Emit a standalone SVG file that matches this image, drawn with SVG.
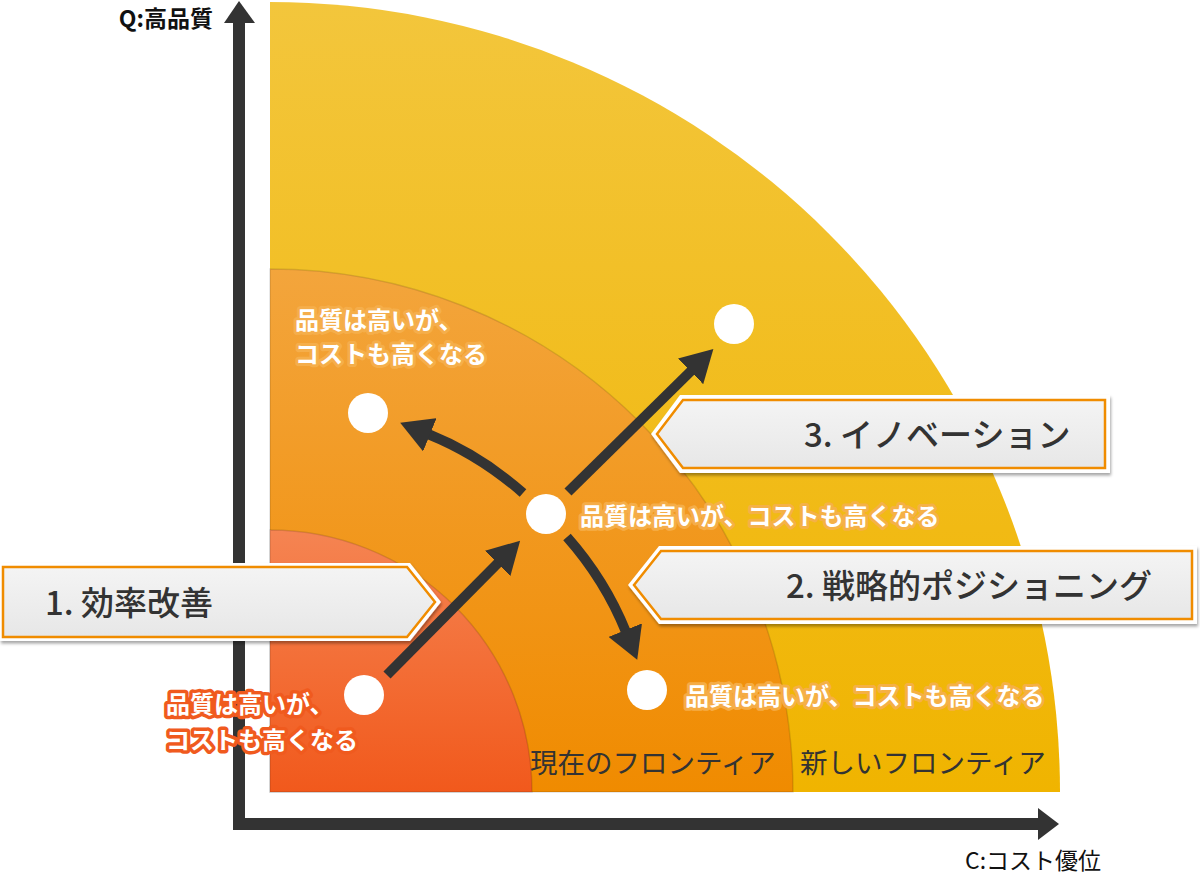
<svg xmlns="http://www.w3.org/2000/svg" width="1200" height="874" viewBox="0 0 1200 874">
<defs>
<linearGradient id="gY" gradientUnits="userSpaceOnUse" x1="0" y1="2" x2="0" y2="792"><stop offset="0" stop-color="#F3C63C"/><stop offset="1" stop-color="#F0B400"/></linearGradient>
<linearGradient id="gO" gradientUnits="userSpaceOnUse" x1="0" y1="269" x2="0" y2="792"><stop offset="0" stop-color="#F3A53C"/><stop offset="1" stop-color="#F08B00"/></linearGradient>
<linearGradient id="gR" gradientUnits="userSpaceOnUse" x1="0" y1="530" x2="0" y2="792"><stop offset="0" stop-color="#F58452"/><stop offset="1" stop-color="#F1591C"/></linearGradient>
<linearGradient id="gBox" x1="0" y1="0" x2="0" y2="1"><stop offset="0" stop-color="#F4F4F4"/><stop offset="1" stop-color="#E7E7E7"/></linearGradient>
<filter id="sh" x="-5%" y="-20%" width="110%" height="150%"><feDropShadow dx="1" dy="2.5" stdDeviation="1.5" flood-color="#000" flood-opacity="0.35"/></filter>
<marker id="ah" markerUnits="userSpaceOnUse" viewBox="0 0 32 36" markerWidth="32" markerHeight="36" refX="2" refY="18" orient="auto"><path d="M0,0 L32,18 L0,36 Z" fill="#333"/></marker>
<style>
.arc{stroke:#000;stroke-opacity:0.12;stroke-width:1.5}
.ax{fill:none;stroke:#333;stroke-width:12;stroke-linejoin:miter}
.axh{fill:#333}
.conn{fill:none;stroke:#333;stroke-width:10}
.dot{fill:#fff}
.outer{fill:#fff;filter:url(#sh)}
.inner{fill:url(#gBox);stroke:#F08C00;stroke-width:2.5}
.ct{font-family:"Noto Sans CJK JP","Noto Sans",sans-serif;font-size:33px;font-weight:500;fill:#333}
.lbl{font-family:"Noto Sans CJK JP",sans-serif;font-size:24px;font-weight:bold;fill:#fff;paint-order:stroke;stroke-linejoin:round}
.glow{stroke:#F6B04E;stroke-width:6;stroke-opacity:0.9}
.glowr{stroke:#F05A1E;stroke-width:7}
.fr{font-family:"Noto Sans CJK JP",sans-serif;font-size:27.5px;fill:#333}
.axl{font-family:"Noto Sans CJK JP","Liberation Sans",sans-serif;font-size:23px;fill:#111}
</style>
</defs>
<g id="regions">
<path d="M270,792 L270,2 A790,790 0 0 1 1060,792 Z" fill="url(#gY)"/>
<path class="arc" d="M270,792 L270,269 A523,523 0 0 1 793,792 Z" fill="url(#gO)"/>
<path class="arc" d="M270,792 L270,530 A262,262 0 0 1 532,792 Z" fill="url(#gR)"/>
<text class="fr" x="530" y="773">現在のフロンティア</text>
<text class="fr" x="800" y="773">新しいフロンティア</text>
</g>
<g id="axes">
<path class="ax" d="M239,22 L239,824 L1040,824"/>
<path class="axh" d="M224,23 L239,1 L255,23 Z"/>
<path class="axh" d="M1038,808 L1059,824 L1038,840 Z"/>
<text class="axl" x="213" y="27" text-anchor="end" font-weight="bold">Q:高品質</text>
<text class="axl" x="965" y="869" font-size="24">C:コスト優位</text>
</g>
<g id="connectors">
<path class="conn" d="M387,675 L499,562" marker-end="url(#ah)"/>
<path class="conn" d="M568,492 L692,370" marker-end="url(#ah)"/>
<path class="conn" d="M523,493 Q480,455 428,434" marker-end="url(#ah)"/>
<path class="conn" d="M567,537 Q605,580 626,632" marker-end="url(#ah)"/>
</g>
<g id="node-start"><circle class="dot" cx="364" cy="695" r="20"/>
<text class="lbl glowr" x="166" y="713">品質は高いが、</text>
<text class="lbl glowr" x="166" y="749">コストも高くなる</text></g>
<g id="node-center"><circle class="dot" cx="546" cy="514" r="20"/>
<text class="lbl glow" x="580" y="525">品質は高いが、コストも高くなる</text></g>
<g id="node-upperleft"><circle class="dot" cx="368" cy="413" r="20"/>
<text class="lbl glow" x="295" y="329">品質は高いが、</text>
<text class="lbl glow" x="295" y="363">コストも高くなる</text></g>
<g id="node-upperright"><circle class="dot" cx="734" cy="324" r="20"/></g>
<g id="node-lowerright"><circle class="dot" cx="647" cy="690" r="20"/>
<text class="lbl glow" x="685" y="705">品質は高いが、コストも高くなる</text></g>
<g id="callout-1">
<path class="outer" d="M0,563 L410,563 L441,602 L410,641 L0,641 Z"/>
<path class="inner" d="M3,567 L407,567 L435,602 L407,637 L3,637 Z"/>
<text class="ct" x="45" y="615">1. 効率改善</text>
</g>
<g id="callout-2">
<path class="outer" d="M628,585 L659,546 L1197,546 L1197,624 L659,624 Z"/>
<path class="inner" d="M634,585 L661,551 L1192,551 L1192,619 L661,619 Z"/>
<text class="ct" x="786" y="598">2. 戦略的ポジショニング</text>
</g>
<g id="callout-3">
<path class="outer" d="M651,434 L680,395 L1110,395 L1110,473 L680,473 Z"/>
<path class="inner" d="M657,434 L683,400 L1105,400 L1105,468 L683,468 Z"/>
<text class="ct" x="804" y="447">3. イノベーション</text>
</g>
</svg>
